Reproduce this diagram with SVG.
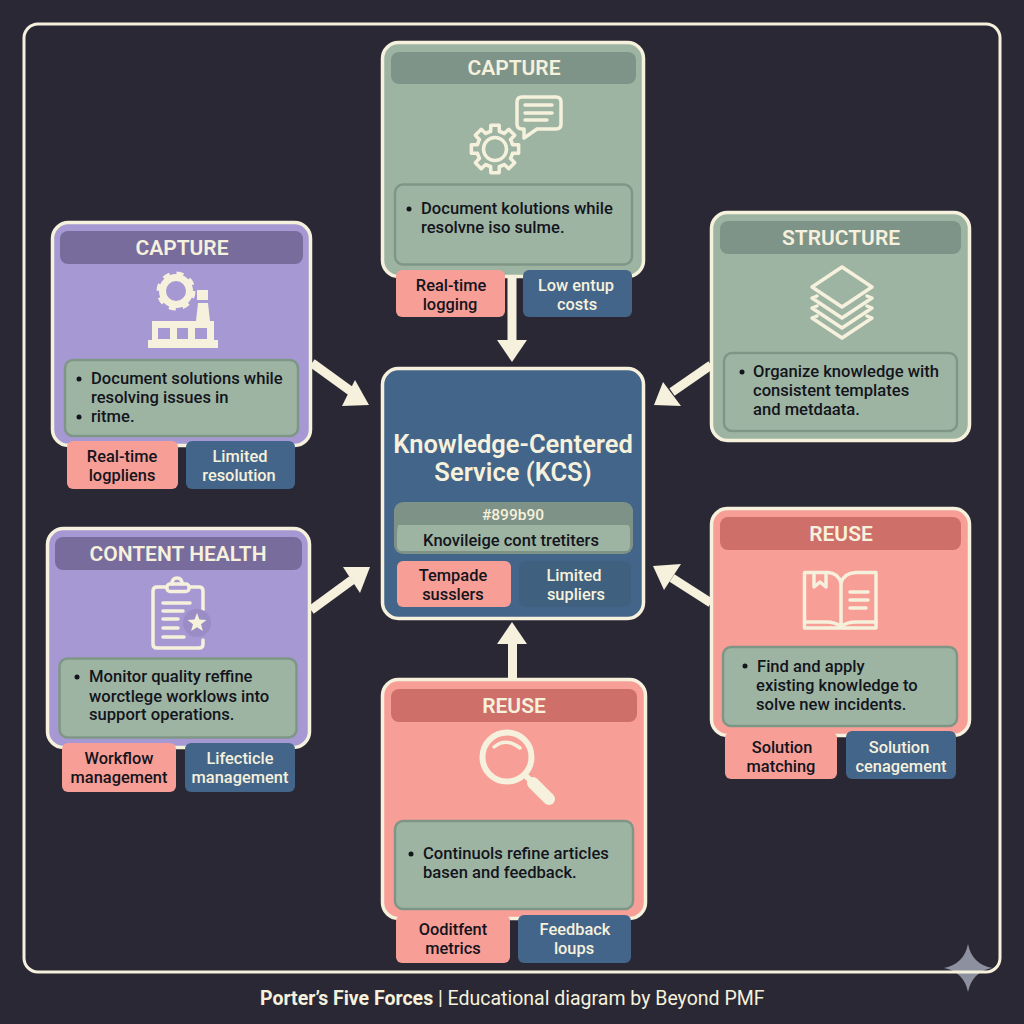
<svg xmlns="http://www.w3.org/2000/svg" xmlns:xlink="http://www.w3.org/1999/xlink" width="1024" height="1024" viewBox="0 0 1024 1024">
<style>
text{font-family:Roboto,"Liberation Sans",sans-serif}
.card{stroke:#f6f1dc;stroke-width:3.5}
.sage{fill:#9db4a3}.purple{fill:#a698d2}.coral{fill:#f79e97}.blue{fill:#44658a}
.hs{fill:#7f9488}.hp{fill:#786c9d}.hc{fill:#cf6f69}
.inner{fill:#9db4a3;stroke:#7f9686;stroke-width:2.5}
.title{fill:#f6f1dc;font-size:21px;font-weight:600;text-anchor:middle}
.body{fill:#14141c;font-size:16.6px;font-weight:500}
.bul{fill:#14141c}
.tr{fill:#f79e97}.tb{fill:#44658a}
.tl{font-size:16.4px;font-weight:500;text-anchor:middle}
.td{fill:#14141c}.tw{fill:#f6f1dc}
.ico{fill:none;stroke:#f6f1dc;stroke-width:3.5;stroke-linejoin:round;stroke-linecap:round}
.sol{fill:#f6f1dc}
.conn{fill:none;stroke:#f6f1dc;stroke-width:9}
</style>
<defs>
<path id="tooth" d="M-6.89-16.63A18 18 0 0 1-4.35-17.47L-4.17-23.64L4.17-23.64L4.35-17.47A18 18 0 0 1 6.89-16.63"/>
</defs>
<rect width="1024" height="1024" fill="#2a2835"/>
<path id="sparkle" d="M968 944Q972 964 992 968Q972 972 968 992Q964 972 944 968Q964 964 968 944Z" fill="#8d909e"/>
<rect id="frame" x="24" y="24" width="976" height="948" rx="14" fill="none" stroke="#f6f1dc" stroke-width="3"/>
<g id="connectors">
<path class="conn" d="M512 277V342"/><polygon class="sol" points="497,340 527,340 512,362"/>
<path class="conn" d="M312 363L352 392"/><polygon class="sol" points="355,380 369,405 342,406"/>
<path class="conn" d="M311 610L352 580"/><polygon class="sol" points="343,567 370,567 360,593"/>
<path class="conn" d="M711 365L672 392"/><polygon class="sol" points="663,382 681,406 654,405"/>
<path class="conn" d="M711 603L672 578"/><polygon class="sol" points="681,564 664,590 653,566"/>
<path class="conn" d="M512.500 678V642"/><polygon class="sol" points="497,644 527,644 512,622"/>
</g>
<g id="node-capture-top">
<rect class="card sage" x="382.500" y="42.500" width="261" height="234" rx="16"/>
<rect class="hs" x="391" y="52" width="245" height="32" rx="8"/>
<text class="title" x="514" y="75">CAPTURE</text>
<g class="ico" transform="translate(495 149)"><use xlink:href="#tooth" href="#tooth"/><use href="#tooth" transform="rotate(45)"/><use href="#tooth" transform="rotate(90)"/><use href="#tooth" transform="rotate(135)"/><use href="#tooth" transform="rotate(180)"/><use href="#tooth" transform="rotate(225)"/><use href="#tooth" transform="rotate(270)"/><use href="#tooth" transform="rotate(315)"/><circle r="11.500"/></g>
<path class="ico" d="M522 97H556Q561 97 561 102V124Q561 129 556 129H537L524 138V129H522Q517 129 517 124V102Q517 97 522 97Z"/>
<path class="ico" d="M525 105H552M525 113H552M525 120H547"/>
<rect class="inner" x="395" y="184.500" width="237" height="80" rx="8"/>
<circle class="bul" cx="409" cy="209" r="2.500"/>
<text class="body" x="421" y="214">Document kolutions while</text>
<text class="body" x="421" y="233">resolvne iso sulme.</text>
<rect class="tr" x="396" y="270" width="109" height="47" rx="6"/>
<text class="tl td" x="451" y="291">Real-time</text><text class="tl td" x="450" y="310">logging</text>
<rect class="tb" x="523" y="270" width="109" height="47" rx="6"/>
<text class="tl tw" x="576" y="291">Low entup</text><text class="tl tw" x="577" y="310">costs</text>
</g>
<g id="node-center">
<rect class="card blue" x="382.500" y="368.500" width="261" height="250" rx="16"/>
<text x="513" y="453" fill="#f6f1dc" font-size="25.500" font-weight="600" text-anchor="middle">Knowledge-Centered</text>
<text x="513" y="481" fill="#f6f1dc" font-size="25.500" font-weight="600" text-anchor="middle">Service (KCS)</text>
<rect x="394" y="502" width="239" height="52" rx="9" fill="#7e9287"/>
<path d="M398 525L628 525Q630 526 630 531V546Q630 551 625 551H402Q397 551 397 546V531Z" fill="#9db4a3"/>
<text x="513" y="520" fill="#f6f1dc" font-size="15.500" font-weight="500" text-anchor="middle">#899b90</text>
<text x="511" y="546" fill="#14141c" font-size="16.500" font-weight="500" text-anchor="middle">Knovileige cont tretiters</text>
<rect class="tr" x="397" y="561" width="114" height="46" rx="6"/>
<text class="tl td" x="453" y="581">Tempade</text><text class="tl td" x="453" y="600">susslers</text>
<rect x="519" y="561" width="112" height="46" rx="6" fill="#40607f"/>
<text class="tl tw" x="574" y="581">Limited</text><text class="tl tw" x="576" y="600">supliers</text>
</g>
<g id="node-capture-left">
<rect class="card purple" x="52.500" y="222.500" width="258" height="223" rx="16"/>
<rect class="hp" x="60" y="231" width="243" height="33" rx="8"/>
<text class="title" x="182" y="255">CAPTURE</text>
<g fill="none" stroke="#f6f1dc"><circle cx="176" cy="291" r="13.500" stroke-width="7"/><circle cx="176" cy="291" r="17" stroke-width="5" stroke-dasharray="6.680 6.670"/></g>
<path class="sol" fill-rule="evenodd" d="M197 290H208V300H197ZM198 303H208L210 321H214V340H218V348H148V340H152V321H196ZM158 328V339H170V328ZM177 328V339H188V328ZM195 328V339H207V328Z"/>
<rect class="inner" x="65" y="360" width="233" height="76" rx="8"/>
<circle class="bul" cx="79" cy="379" r="2.500"/><circle class="bul" cx="79" cy="417" r="2.500"/>
<text class="body" x="91" y="384">Document solutions while</text>
<text class="body" x="91" y="403">resolving issues in</text>
<text class="body" x="91" y="422">ritme.</text>
<rect class="tr" x="67" y="441" width="111" height="48" rx="6"/>
<text class="tl td" x="122" y="462">Real-time</text><text class="tl td" x="122" y="481">logpliens</text>
<rect class="tb" x="186" y="441" width="109" height="48" rx="6"/>
<text class="tl tw" x="240" y="462">Limited</text><text class="tl tw" x="239" y="481">resolution</text>
</g>
<g id="node-content-health">
<rect class="card purple" x="47.500" y="528.500" width="262" height="219" rx="16"/>
<rect class="hp" x="55" y="537" width="247" height="33" rx="8"/>
<text class="title" x="178" y="561">CONTENT HEALTH</text>
<path class="ico" d="M166 587H157Q153 587 153 591V644Q153 648 157 648H199Q203 648 203 644V640M203 610V591Q203 587 199 587H190"/>
<rect class="ico" x="167" y="584" width="22" height="7.500" rx="3"/>
<path class="ico" d="M172 584Q172 578 177 578Q182 578 182 584"/>
<path class="ico" d="M163 603H190M163 611H183M163 619H178M163 628H178M163 637H184"/>
<circle cx="197" cy="623" r="14" fill="#9a8dc6"/>
<polygon class="sol" transform="translate(197 623)" points="0,-10 2.470,-3.400 9.510,-3.090 4,1.300 5.880,8.090 0,4.200 -5.880,8.090 -4,1.300 -9.510,-3.090 -2.470,-3.400"/>
<rect class="inner" x="59.500" y="658.500" width="237" height="79" rx="8"/>
<circle class="bul" cx="77" cy="677" r="2.500"/>
<text class="body" x="89" y="682">Monitor quality reffine</text>
<text class="body" x="89" y="702">worctlege worklows into</text>
<text class="body" x="89" y="720">support operations.</text>
<rect class="tr" x="62" y="743" width="114" height="49" rx="6"/>
<text class="tl td" x="119" y="764">Workflow</text><text class="tl td" x="119" y="783">management</text>
<rect class="tb" x="185" y="743" width="110" height="49" rx="6"/>
<text class="tl tw" x="240" y="764">Lifecticle</text><text class="tl tw" x="240" y="783">management</text>
</g>
<g id="node-structure">
<rect class="card sage" x="711.500" y="212.500" width="258" height="228" rx="16"/>
<rect class="hs" x="720" y="221" width="241" height="33" rx="8"/>
<text class="title" x="841" y="245">STRUCTURE</text>
<path class="ico" d="M842 267L872 287L842 307L812 287Z"/>
<path class="ico" d="M817 296L812 298L842 318L872 298L867 296M817 306L812 308L842 328L872 308L867 306M817 316L812 318L842 338L872 318L867 316"/>
<rect class="inner" x="724" y="353" width="233" height="78" rx="8"/>
<circle class="bul" cx="742" cy="372" r="2.500"/>
<text class="body" x="753" y="377">Organize knowledge with</text>
<text class="body" x="753" y="396">consistent templates</text>
<text class="body" x="753" y="415">and metdaata.</text>
</g>
<g id="node-reuse-right">
<rect class="card coral" x="711.500" y="508.500" width="258" height="227" rx="16"/>
<rect class="hc" x="720" y="517" width="241" height="33" rx="8"/>
<text class="title" x="841" y="541">REUSE</text>
<path class="ico" stroke-linecap="butt" d="M804.500 572.500H828Q838 573 841 583Q844 573 856 572.500H876V628H804.500Z"/>
<path class="ico" d="M805 622H826Q836 622 841 627Q846 622 856 622H876M841 583V626"/>
<path class="ico" d="M814 573V587L820 582L826 587V573"/>
<path class="ico" d="M850 592H868M850 600H868M850 608H866"/>
<rect class="inner" x="723" y="647" width="234" height="79" rx="8"/>
<circle class="bul" cx="745" cy="666" r="2.500"/>
<text class="body" x="757" y="672">Find and apply</text>
<text class="body" x="756" y="691">existing knowledge to</text>
<text class="body" x="756" y="710">solve new incidents.</text>
<rect class="tr" x="725" y="732" width="112" height="47" rx="6"/>
<text class="tl td" x="782" y="753">Solution</text><text class="tl td" x="781" y="772">matching</text>
<rect class="tb" x="846" y="731" width="110" height="48" rx="6"/>
<text class="tl tw" x="899" y="753">Solution</text><text class="tl tw" x="901" y="772">cenagement</text>
</g>
<g id="node-reuse-bottom">
<rect class="card coral" x="382.500" y="679.500" width="263" height="239" rx="16"/>
<rect class="hc" x="391" y="689" width="246" height="33" rx="8"/>
<text class="title" x="514" y="713">REUSE</text>
<circle cx="507" cy="757" r="24.500" fill="none" stroke="#f6f1dc" stroke-width="6"/>
<path class="ico" d="M494 747Q506 737 520 748"/>
<path d="M525 775L533 783" stroke="#f6f1dc" stroke-width="6"/>
<path d="M533 783L549 799" stroke="#f6f1dc" stroke-width="12" stroke-linecap="round"/>
<rect class="inner" x="395" y="821" width="238" height="88" rx="8"/>
<circle class="bul" cx="411" cy="854" r="2.500"/>
<text class="body" x="423" y="859">Continuols refine articles</text>
<text class="body" x="423" y="878">basen and feedback.</text>
<rect class="tr" x="396" y="915" width="114" height="48" rx="6"/>
<text class="tl td" x="453" y="935">Ooditfent</text><text class="tl td" x="453" y="954">metrics</text>
<rect class="tb" x="518" y="915" width="113" height="48" rx="6"/>
<text class="tl tw" x="575" y="935">Feedback</text><text class="tl tw" x="574" y="954">loups</text>
</g>
<text id="footer" x="260" y="1005" fill="#f6f1dc" font-size="19.500"><tspan font-weight="700">Porter’s Five Forces</tspan> | Educational diagram by Beyond PMF</text>
</svg>
